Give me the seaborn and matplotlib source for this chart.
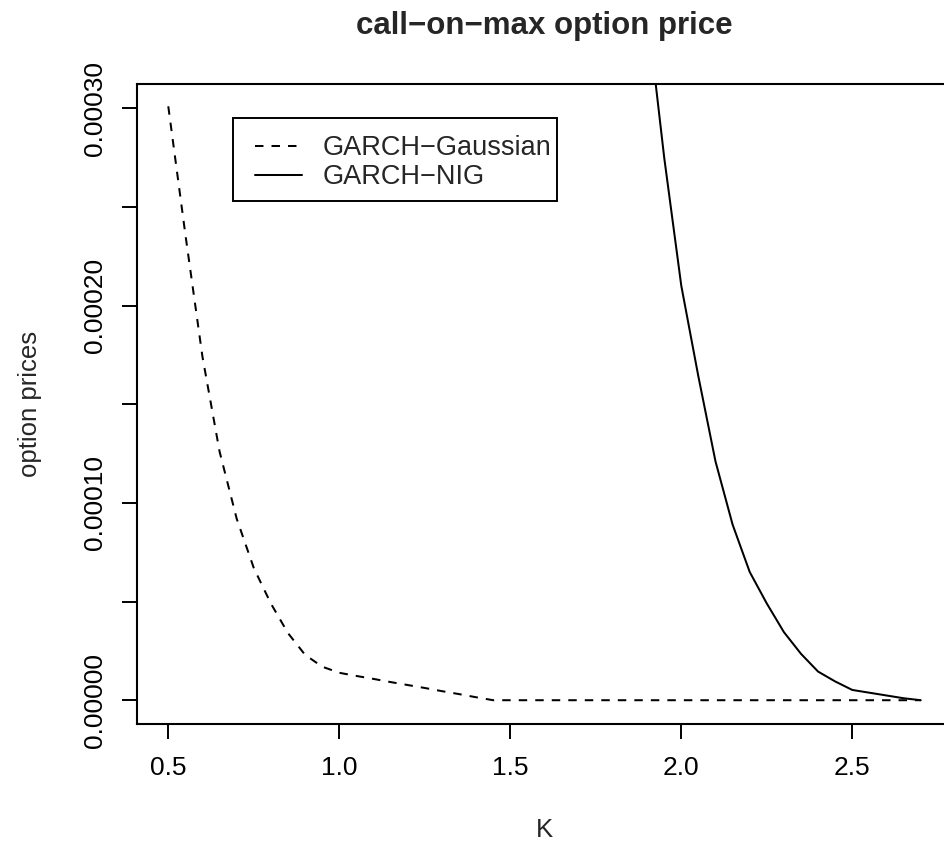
import numpy as np
import pandas as pd
import matplotlib
matplotlib.use("Agg")
import matplotlib.pyplot as plt
from matplotlib.patches import Rectangle
import seaborn as sns

# ---- data ----
K_gauss = [0.50, 0.55, 0.60, 0.65, 0.70, 0.75, 0.80, 0.85, 0.90, 0.95,
           1.00, 1.05, 1.10, 1.15, 1.20, 1.25, 1.30, 1.35, 1.40, 1.45,
           1.50, 1.55, 1.60, 1.65, 1.70, 1.75, 1.80, 1.85, 1.90, 1.95,
           2.00, 2.05, 2.10, 2.15, 2.20, 2.25, 2.30, 2.35, 2.40, 2.45,
           2.50, 2.55, 2.60, 2.65, 2.70]
price_gauss = [3.01e-4, 2.36e-4, 1.74e-4, 1.26e-4, 9.2e-5, 6.7e-5, 4.9e-5, 3.4e-5, 2.3e-5, 1.7e-5,
               1.39e-5, 1.23e-5, 1.08e-5, 9.2e-6, 7.7e-6, 6.2e-6, 4.6e-6, 3.1e-6, 1.5e-6, 0.0,
               0.0, 0.0, 0.0, 0.0, 0.0, 0.0, 0.0, 0.0, 0.0, 0.0,
               0.0, 0.0, 0.0, 0.0, 0.0, 0.0, 0.0, 0.0, 0.0, 0.0,
               0.0, 0.0, 0.0, 0.0, 0.0]
K_nig = [1.90, 1.95, 2.00, 2.05, 2.10, 2.15, 2.20, 2.25, 2.30, 2.35,
         2.40, 2.45, 2.50, 2.55, 2.60, 2.65, 2.70]
price_nig = [3.50e-4, 2.75e-4, 2.10e-4, 1.64e-4, 1.21e-4, 8.9e-5, 6.5e-5, 4.9e-5, 3.45e-5, 2.35e-5,
             1.45e-5, 9.5e-6, 5.2e-6, 3.8e-6, 2.4e-6, 1.0e-6, 0.0]
series_names = ["GARCH\u2212Gaussian", "GARCH\u2212NIG"]
x_ticks = [0.5, 1.0, 1.5, 2.0, 2.5]
x_ticklabels = ["0.5", "1.0", "1.5", "2.0", "2.5"]
y_ticks = [0.0, 5e-5, 1e-4, 1.5e-4, 2e-4, 2.5e-4, 3e-4]
y_ticklabels = ["0.00000", "", "0.00010", "", "0.00020", "", "0.00030"]
title = "call\u2212on\u2212max option price"
xlabel = "K"
ylabel = "option prices"

df = pd.concat([
    pd.DataFrame({"K": K_gauss, "price": price_gauss, "model": series_names[0]}),
    pd.DataFrame({"K": K_nig, "price": price_nig, "model": series_names[1]}),
], ignore_index=True)

sns.set_theme(style="ticks")
plt.rcParams["font.family"] = ["Liberation Sans", "DejaVu Sans"]
plt.rcParams["axes.unicode_minus"] = True

W, H = 945, 846
fig = plt.figure(figsize=(W / 100, H / 100), dpi=100)
L, R, T, B = 137.5, 951.5, 84.0, 723.5
ax = fig.add_axes([L / W, 1 - B / H, (R - L) / W, (B - T) / H])

dash = (4.2, 4.0)
sns.lineplot(data=df, x="K", y="price", style="model", style_order=series_names,
             dashes={series_names[0]: dash, series_names[1]: ""},
             color="black", linewidth=1.45, sort=False, ax=ax, legend=True)

ax.set_xlim(0.41, 2.79)
ax.set_ylim(-1.18e-5, 3.123e-4)
ax.set_xticks(x_ticks)
ax.set_xticklabels(x_ticklabels)
ax.set_yticks(y_ticks)
ax.set_yticklabels(y_ticklabels, rotation=90, va="center")

fs_tick = 19
fs_lab = 18.5
fs_leg = 19.5
for s in ax.spines.values():
    s.set_linewidth(1.5)
    s.set_color("black")
ax.tick_params(axis="both", direction="out", length=11, width=1.4, colors="black",
               labelsize=fs_tick, labelcolor="black")
ax.tick_params(axis="x", pad=12.5)
ax.tick_params(axis="y", pad=11)

ax.set_xlabel(xlabel, fontsize=fs_lab)
ax.set_ylabel(ylabel, fontsize=fs_lab)
ax.xaxis.set_label_coords(0.5, -(818 - B) / (B - T))
ax.yaxis.set_label_coords((42 - L) / (R - L), 0.5)

fig.text((L + R) / 2 / W, 1 - 34 / H, title, ha="center", va="baseline",
         fontsize=22.5, fontweight="bold")

# legend
handles, labels = ax.get_legend_handles_labels()
leg = ax.legend(handles, labels, loc="upper left",
                bbox_to_anchor=((255 - L) / (R - L), (B - 135) / (B - T)),
                frameon=False, fontsize=fs_leg, borderpad=0, borderaxespad=0,
                handlelength=1.72, handletextpad=0.76, labelspacing=0.12)
for h in leg.get_lines():
    h.set_linewidth(1.45)
ax.add_patch(Rectangle(((233.3 - L) / (R - L), (B - 200.7) / (B - T)),
                       (556.7 - 233.3) / (R - L), (200.7 - 118.3) / (B - T),
                       transform=ax.transAxes, fill=False, edgecolor="black",
                       linewidth=1.4, zorder=5))

fig.savefig("out.png", dpi=100)
